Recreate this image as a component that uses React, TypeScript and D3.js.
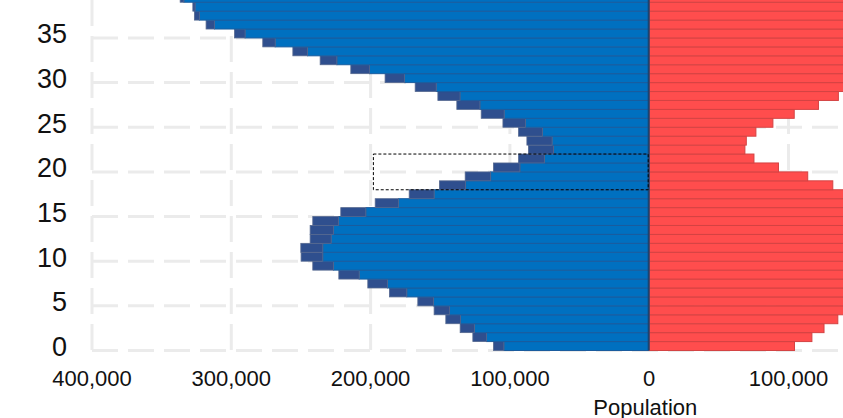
import React from "react";
import * as d3 from "d3";

const ages: number[] = d3.range(0, 40);
const males: number[] = [
  111800, 126600, 135700, 146000, 154400, 166100, 186500, 202000, 222800, 241500,
  249900, 250100, 243400, 243400, 241500, 221400, 196700, 172300, 150600, 132100,
  111800, 93800, 86700, 87800, 93800, 105000, 120600, 138100, 151700, 168000,
  189600, 214200, 236200, 255800, 277400, 297700, 318100, 326500, 327600, 336700,
];
const females: number[] = [
  104300, 116800, 125500, 135400, 143400, 154900, 174000, 187900, 208200, 226700,
  234300, 234300, 228300, 226700, 223100, 203400, 180000, 154400, 131800, 113800,
  92800, 75200, 68700, 69700, 76600, 88800, 104100, 121500, 135800, 152900,
  175700, 200800, 224200, 245300, 268500, 290100, 312100, 322900, 326000, 334000,
];
const xTicks: number[] = [-400000, -300000, -200000, -100000, 0, 100000];
const yTicks: number[] = [0, 5, 10, 15, 20, 25, 30, 35];
const highlightAges: [number, number] = [18, 21];
const highlightValue = 198000;
const xLabel = "Population";

const W = 843;
const H = 418;

export default function App() {
  const x = d3.scaleLinear().domain([-400000, 100000]).range([92, 788.5]);
  const y = d3
    .scaleBand<number>()
    .domain(ages.slice().reverse())
    .range([-6.7, 350.5])
    .padding(0);
  const bw = y.bandwidth();
  const x0 = x(0);
  const fmt = d3.format(",");
  const gridColor = "#ebebeb";

  return (
    <svg
      width={W}
      height={H}
      viewBox={`0 0 ${W} ${H}`}
      style={{ position: "absolute", left: 0, top: 0, background: "#fff", overflow: "hidden" }}
      fontFamily="'Liberation Sans', Arial, sans-serif"
    >
      {/* grid */}
      <g>
        {xTicks.filter((t) => t !== 0).map((t) => (
          <line
            key={"gx" + t}
            x1={x(t)}
            x2={x(t)}
            y1={0}
            y2={350.5}
            stroke={gridColor}
            strokeWidth={3}
            strokeDasharray="26,10"
          />
        ))}
        {yTicks.map((a) => (
          <line
            key={"gy" + a}
            x1={x(-400000)}
            x2={W}
            y1={(y(a) as number) + bw}
            y2={(y(a) as number) + bw}
            stroke={gridColor}
            strokeWidth={3}
            strokeDasharray="26,10"
          />
        ))}
      </g>
      {/* male bars */}
      <g>
        {ages.map((a, i) => {
          const yy = y(a) as number;
          const m = males[i];
          const f = females[i];
          const common = Math.min(m, f);
          return (
            <g key={"m" + a}>
              <rect
                x={x(-common)}
                y={yy}
                width={x0 - x(-common)}
                height={bw}
                fill="#0070C0"
                stroke="#1A5C9E"
                strokeWidth={1}
              />
              {m > f && (
                <rect
                  x={x(-m)}
                  y={yy}
                  width={x(-f) - x(-m)}
                  height={bw}
                  fill="#2F4F8E"
                  stroke="#55688f"
                  strokeWidth={0.8}
                />
              )}
            </g>
          );
        })}
      </g>
      {/* female bars */}
      <g>
        {ages.map((a, i) => {
          const yy = y(a) as number;
          const f = females[i];
          return (
            <rect
              key={"f" + a}
              x={x0}
              y={yy}
              width={x(f) - x0}
              height={bw}
              fill="#FF4D4D"
              stroke="#D44343"
              strokeWidth={1}
            />
          );
        })}
      </g>
      <line x1={x0 - 0.5} x2={x0 - 0.5} y1={0} y2={350.5} stroke="#1B4470" strokeWidth={2} />
      {/* highlight box */}
      <rect
        x={x(-highlightValue)}
        y={y(highlightAges[1]) as number}
        width={x0 - 1 - x(-highlightValue)}
        height={(y(highlightAges[0]) as number) + bw - (y(highlightAges[1]) as number)}
        fill="none"
        stroke="#000"
        strokeWidth={1}
        strokeDasharray="3,2"
      />
      {/* y labels */}
      <g>
        {yTicks.map((a) => (
          <text
            key={"yl" + a}
            x={67}
            y={(y(a) as number) + bw / 2 + 10}
            textAnchor="end"
            fontSize={27}
            fill="#111"
          >
            {a}
          </text>
        ))}
      </g>
      {/* x labels */}
      <g>
        {xTicks.map((t) => (
          <text
            key={"xl" + t}
            x={x(t)}
            y={385.5}
            textAnchor="middle"
            fontSize={22}
            fill="#111"
          >
            {fmt(Math.abs(t))}
          </text>
        ))}
      </g>
      <text x={645.3} y={414.5} textAnchor="middle" fontSize={22} fill="#111">
        {xLabel}
      </text>
    </svg>
  );
}
